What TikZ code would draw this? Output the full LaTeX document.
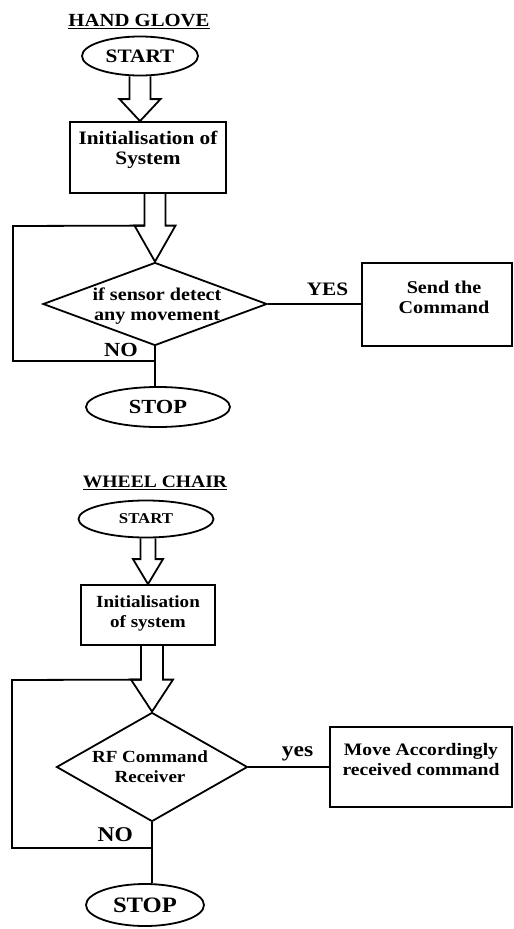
\documentclass[tikz,border=0pt]{standalone}
\usepackage{fontspec}
\setmainfont{Liberation Serif}[FakeStretch=1.12]
\usetikzlibrary{shapes.geometric,calc}

\tikzset{
  flow/.style={line width=1.8pt},
  term/.style={draw, ellipse, line width=1.8pt, inner sep=0pt},
  proc/.style={draw, rectangle, line width=1.8pt, inner sep=0pt},
  decision/.style={draw, diamond, line width=1.8pt, inner sep=0pt},
  lbl/.style={font=\bfseries\fontsize{#1}{20}\selectfont, align=center, inner sep=0pt},
}

% hollow fat arrow: from, to, half shaft, half head, head length
\newcommand{\hollowarrow}[5]{%
  \draw[flow] ($(#1)+(-#3,0)$) -- ($(#2)+(-#3,-#5)$) -- ($(#2)+(-#4,-#5)$) -- (#2)
    -- ($(#2)+(#4,-#5)$) -- ($(#2)+(#3,-#5)$) -- ($(#1)+(#3,0)$);}

\begin{document}
\begin{tikzpicture}[x=1pt,y=-1pt]
    \useasboundingbox (0,0) rectangle (514,929);

    % hand glove
    \node[lbl=18.5] (title1) at (139,22) {\underline{HAND GLOVE}};
    \node[term, minimum width=116pt, minimum height=39pt, lbl=19] (start1) at (140,56) {START};
    \node[proc, minimum width=156pt, minimum height=71pt] (init1) at (148,157.5) {};
    \node[lbl=19] (init1txt) at ([yshift=7.5pt]init1.center) {Initialisation of\\System};
    \node[decision, minimum width=224pt, minimum height=83pt] (dec1) at (155,304) {};
    \node[lbl=18] (dec1txt) at ([xshift=2pt,yshift=-2pt]dec1.center) {if sensor detect\\any movement};
    \node[proc, minimum width=150pt, minimum height=83pt] (send) at (437,304.5) {};
    \node[lbl=18] (sendtxt) at ([xshift=7pt,yshift=7pt]send.center) {Send the\\Command};
    \node[term, minimum width=144pt, minimum height=40pt, lbl=20] (stop1) at (158,407) {STOP};

    \hollowarrow{start1.south}{start1.south |- init1.north}{10.5}{20.5}{22}
    \hollowarrow{dec1.north |- init1.south}{dec1.north}{10.5}{20.5}{36}
    \draw[flow] (dec1.east) -- (dec1.east -| send.west) node[pos=0.64, above=7pt, lbl=19] (yes1) {YES};

    \coordinate (ret1) at (dec1.south |- 0,361);
    \draw[flow] (dec1.south) -- (dec1.south |- stop1.north);
    \draw[flow] (ret1) -| (13,226) -- ($(dec1.north)+(-10.5,-36)$);
    \node[lbl=20, anchor=south east] (no1) at ([xshift=-17pt,yshift=4pt]ret1) {NO};

    % wheel chair
    \node[lbl=17.5] (title2) at (155,483) {\underline{WHEEL CHAIR}};
    \node[term, minimum width=135pt, minimum height=37pt, lbl=15] (start2) at (146,519) {START};
    \node[proc, minimum width=134pt, minimum height=60pt] (init2) at (148,615) {};
    \node[lbl=17] (init2txt) at ([yshift=1.5pt]init2.center) {Initialisation\\of system};
    \node[decision, minimum width=191pt, minimum height=109pt] (dec2) at (152,767) {};
    \node[lbl=17] (dec2txt) at ([xshift=-2pt]dec2.center) {RF Command\\Receiver};
    \node[proc, minimum width=182pt, minimum height=80pt] (move) at (421,767) {};
    \node[lbl=17.5] (movetxt) at ([yshift=7pt]move.center) {Move Accordingly\\received command};
    \node[term, minimum width=118pt, minimum height=42pt, lbl=22] (stop2) at (145,905) {STOP};

    \hollowarrow{init2.north |- start2.south}{init2.north}{7.5}{15}{25}
    \hollowarrow{dec2.north |- init2.south}{dec2.north}{11}{21}{32}
    \draw[flow] (dec2.east) -- (move.west) node[pos=0.61, above=5pt, lbl=21] (yes2) {yes};

    \coordinate (ret2) at (dec2.south |- 0,848);
    \draw[flow] (dec2.south) -- (dec2.south |- stop2.north);
    \draw[flow] (ret2) -| (12,680) -- ($(dec2.north)+(-11,-32)$);
    \node[lbl=21, anchor=south east] (no2) at ([xshift=-19pt,yshift=6pt]ret2) {NO};
\end{tikzpicture}
\end{document}
